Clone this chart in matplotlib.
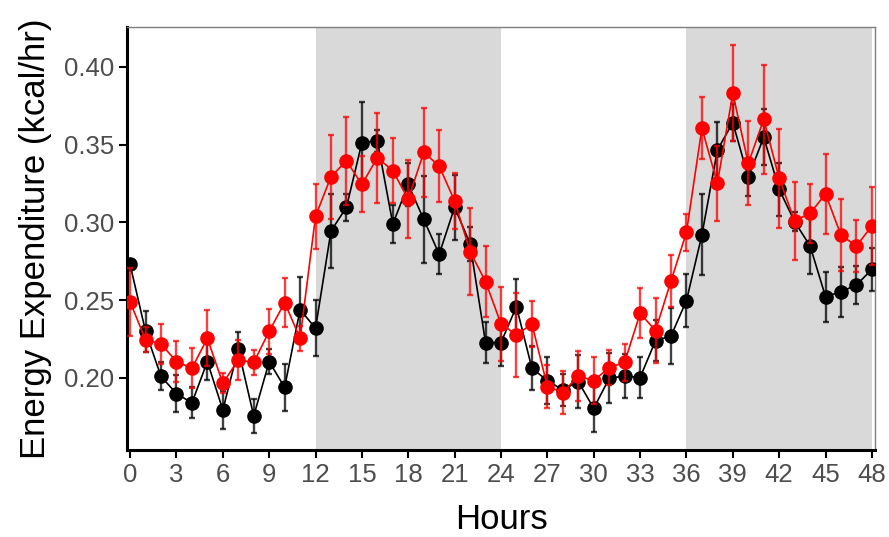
import matplotlib
matplotlib.use("Agg")
import matplotlib.pyplot as plt
import numpy as np

plt.rcParams['font.family'] = ['Liberation Sans', 'DejaVu Sans']

hours = list(range(49))

black_mean = [0.273, 0.230, 0.201, 0.190, 0.184, 0.2105, 0.1795, 0.2185, 0.1756, 0.2105,
              0.194, 0.244, 0.232, 0.2945, 0.3098, 0.3513, 0.3526, 0.299, 0.3245, 0.302,
              0.2796, 0.3098, 0.2862, 0.2228, 0.2228, 0.2459, 0.2063, 0.1983, 0.1923, 0.1977,
              0.1805, 0.1998, 0.2013, 0.2003, 0.224, 0.227, 0.2498, 0.292, 0.3466, 0.3642,
              0.3291, 0.3548, 0.3213, 0.3005, 0.2849, 0.2523, 0.2555, 0.2598, 0.2699]
black_err = [0.003, 0.013, 0.009, 0.012, 0.010, 0.012, 0.012, 0.011, 0.011, 0.008,
             0.015, 0.021, 0.018, 0.024, 0.0086, 0.026, 0.007, 0.012, 0.014, 0.028,
             0.013, 0.021, 0.011, 0.013, 0.015, 0.018, 0.014, 0.015, 0.010, 0.017,
             0.015, 0.016, 0.014, 0.013, 0.013, 0.018, 0.017, 0.026, 0.018, 0.012,
             0.012, 0.018, 0.017, 0.006, 0.018, 0.016, 0.016, 0.012, 0.014]

red_mean = [0.249, 0.2245, 0.222, 0.2105, 0.2063, 0.2255, 0.1966, 0.2116, 0.210, 0.230,
            0.2485, 0.2255, 0.304, 0.3295, 0.3396, 0.3245, 0.3417, 0.3333, 0.3149, 0.3451,
            0.3363, 0.3138, 0.2813, 0.262, 0.2348, 0.2277, 0.2348, 0.1945, 0.1906, 0.2013,
            0.1983, 0.2067, 0.210, 0.2416, 0.2305, 0.2624, 0.2937, 0.3606, 0.3252, 0.3831,
            0.338, 0.3663, 0.3284, 0.301, 0.3059, 0.3183, 0.2918, 0.2849, 0.2978]
red_err = [0.022, 0.008, 0.013, 0.013, 0.013, 0.018, 0.0064, 0.013, 0.008, 0.0145,
           0.016, 0.008, 0.021, 0.027, 0.0285, 0.018, 0.029, 0.021, 0.025, 0.0285,
           0.023, 0.018, 0.028, 0.023, 0.024, 0.027, 0.015, 0.014, 0.014, 0.016,
           0.015, 0.011, 0.012, 0.016, 0.021, 0.017, 0.012, 0.020, 0.024, 0.031,
           0.027, 0.035, 0.032, 0.025, 0.019, 0.026, 0.023, 0.017, 0.025]

dark_periods = [(12, 24), (36, 48)]
xticks = list(range(0, 49, 3))
yticks = [0.20, 0.25, 0.30, 0.35, 0.40]

fig = plt.figure(figsize=(8.89, 5.37), dpi=100)
ax = fig.add_axes([127/889, 1-450/537, (875-127)/889, (450-27)/537])

for a, b in dark_periods:
    ax.axvspan(a, b, color='#D9D9D9', lw=0, zorder=0)

for mean, err, col, z in [(black_mean, black_err, 'black', 2), (red_mean, red_err, '#FF0000', 5)]:
    ax.errorbar(hours, mean, yerr=err, fmt='none', ecolor=col, elinewidth=1.7,
                capsize=2.5, capthick=1.7, alpha=0.75, zorder=z)
    ax.plot(hours, mean, color=col, lw=1.2, zorder=z+1)
    ax.plot(hours, mean, 'o', color=col, ms=9.5, mec=col, zorder=z+2)

ax.set_xlim(-0.2, 48.2)
ax.set_ylim(0.1537, 0.4257)
ax.set_xticks(xticks)
ax.set_xticklabels([str(t) for t in xticks])
ax.set_yticks(yticks)
ax.set_yticklabels([f"{t:.2f}" for t in yticks])

ax.tick_params(axis='both', which='major', length=6, width=1.5, color='black',
               labelsize=18.5, labelcolor='#4D4D4D', pad=3)

for s in ['left', 'bottom']:
    ax.spines[s].set_linewidth(2.2)
    ax.spines[s].set_color('black')
for s in ['top', 'right']:
    ax.spines[s].set_linewidth(1.0)
    ax.spines[s].set_color('#7F7F7F')

ax.set_xlabel('Hours', fontsize=25, color='black', labelpad=12)
ax.set_ylabel('Energy Expenditure (kcal/hr)', fontsize=25, color='black', labelpad=9)

fig.savefig('out.png', dpi=100)
